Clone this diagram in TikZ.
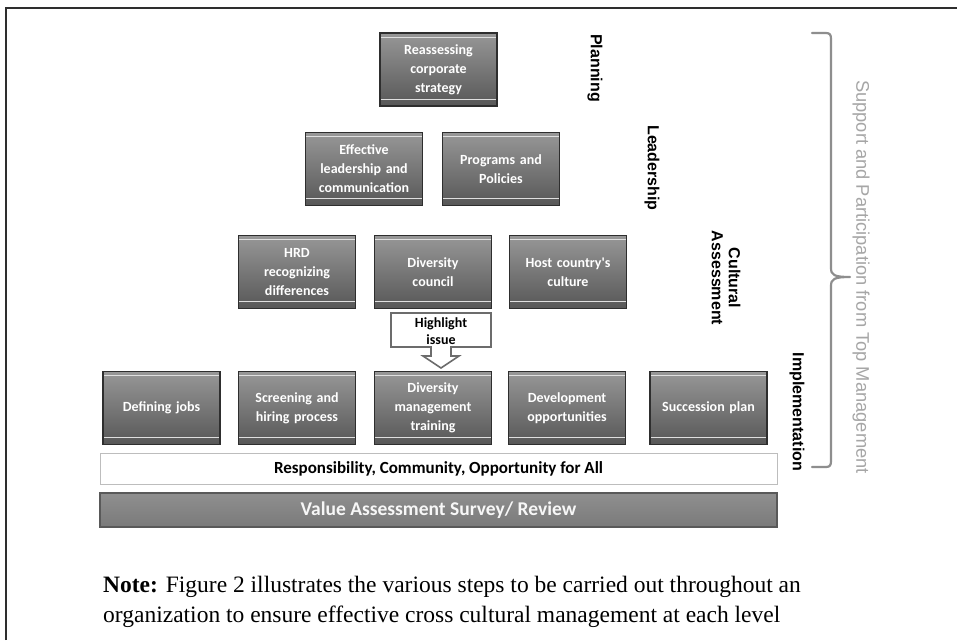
\documentclass[tikz,border=0pt]{standalone}
\usepackage{fontspec}
\newfontfamily\boxfont{Carlito}
\newfontfamily\labfont{Liberation Sans}
\newfontfamily\notefont{Liberation Serif}
\definecolor{gtop}{HTML}{979797}
\definecolor{gbot}{HTML}{575757}
\definecolor{gedge}{HTML}{2E2E2E}
\definecolor{braceg}{HTML}{8E8E8E}
\definecolor{suppg}{HTML}{A6A6A6}
\definecolor{barline}{HTML}{BDBDBD}
\definecolor{vtop}{HTML}{8F8F8F}
\definecolor{vbot}{HTML}{7A7A7A}
\tikzset{
  gbox/.style={draw=gedge, line width=1.6pt, top color=gtop, bottom color=gbot,
    minimum width=117pt, minimum height=73pt, inner sep=0pt, text width=114pt,
    align=center, text=white, font=\boxfont\bfseries\fontsize{14}{19}\selectfont,
    path picture={
      \draw[white!75!gray, line width=0.5pt]
        ([yshift=-4pt]path picture bounding box.north west) -- ([yshift=-4pt]path picture bounding box.north east);
      \draw[white!75!gray, line width=0.5pt]
        ([yshift=7pt]path picture bounding box.south west) -- ([yshift=7pt]path picture bounding box.south east);
    }},
  lab/.style={rotate=-90, align=center, font=\labfont\bfseries\fontsize{16}{17}\selectfont, text=black, inner sep=0pt},
}
\begin{document}
\begin{tikzpicture}[x=1pt,y=-1pt]
\useasboundingbox (0,0) rectangle (957,640);
\fill[white] (0,0) rectangle (957,640);
% frame
\draw[line width=2.6pt, color=gedge] (6,640) -- (6,8) -- (957,8);

% level 1
\node[gbox] (reas) at (438.5,69.5) {Reassessing\\corporate\\strategy};
% level 2
\node[gbox] (lead) at (364,169) {Effective\\leadership and\\communication};
\node[gbox] (prog) at (501,169) {Programs and\\Policies};
% level 3
\node[gbox] (hrd) at (297,272) {HRD\\recognizing\\differences};
\node[gbox] (dcou) at (433,272) {Diversity\\council};
\node[gbox] (host) at (568,272) {Host country's\\culture};
% level 4
\node[gbox] (defj) at (161.5,408) {Defining jobs};
\node[gbox] (scre) at (297,408) {Screening and\\hiring process};
\node[gbox] (dmt) at (433,408) {Diversity\\management\\training};
\node[gbox] (devo) at (567,408) {Development\\opportunities};
\node[gbox] (succ) at (708.5,408) {Succession plan};

% highlight arrow callout
\draw[color=gray!85!black, line width=1.6pt, fill=white]
  (391,313) -- (491,313) -- (491,347) -- (451,347) -- (451,356) -- (459,356)
  -- (441,368) -- (423,356) -- (431,356) -- (431,347) -- (391,347) -- cycle;
\node[align=center, font=\boxfont\bfseries\fontsize{14}{17}\selectfont, inner sep=0pt] (hl) at (441,331) {Highlight\\issue};

% bars
\node[draw=barline, line width=0.8pt, fill=white, minimum width=677pt, minimum height=31pt, inner sep=0pt,
  font=\boxfont\bfseries\fontsize{17}{18}\selectfont] (resp) at (438.5,468.5) {Responsibility, Community, Opportunity for All};
\node[draw=gray!70!black, line width=2pt, top color=vtop, bottom color=vbot, minimum width=677pt, minimum height=34pt, inner sep=0pt,
  text=white!94!gray, font=\boxfont\bfseries\fontsize{19.5}{20}\selectfont] (vas) at (438.5,510) {Value Assessment Survey/ Review};

% level labels
\node[lab] (lplan) at (595,68) {Planning};
\node[lab] (llead) at (652,168) {Leadership};
\node[lab] (lcult) at (726,278) {Cultural\\Assessment};
\node[lab] (limpl) at (797,412) {Implementation};

% brace
\draw[color=braceg, line width=2.2pt, line cap=round, line join=round]
  (812,33) -- (826,33) .. controls (830,33) and (831,35) .. (831,39)
  -- (831,268) .. controls (831,275) and (834,277) .. (850,277)
  .. controls (834,277) and (831,279) .. (831,286)
  -- (831,461) .. controls (831,465) and (830,467) .. (826,467) -- (812,467);
\node[rotate=-90, text=suppg, font=\labfont\fontsize{18.3}{19}\selectfont, inner sep=0pt] (supp) at (861,277) {Support and Participation from Top Management};

% note
\node[anchor=base west, font=\notefont\fontsize{23.5}{30}\selectfont, inner sep=0pt] (note1) at (103,592) {\textbf{Note:} Figure 2 illustrates the various steps to be carried out throughout an};
\node[anchor=base west, font=\notefont\fontsize{23.5}{30}\selectfont, inner sep=0pt] (note2) at (103,622) {organization to ensure effective cross cultural management at each level};
\end{tikzpicture}
\end{document}
